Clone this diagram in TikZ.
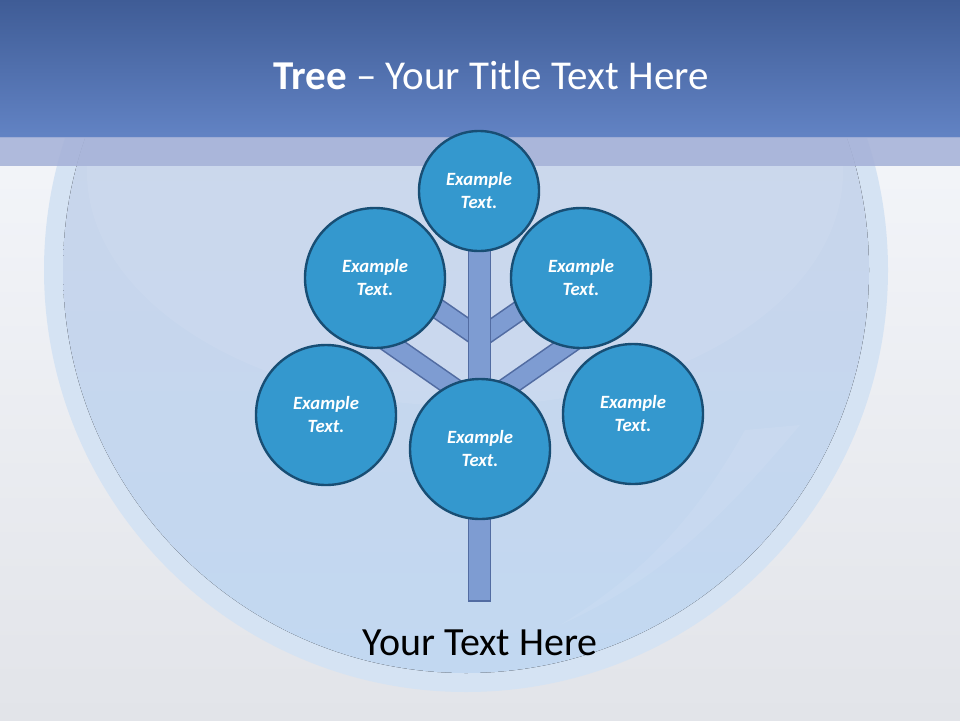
\documentclass[tikz,border=0pt]{standalone}
\usepackage{fontspec}
\setmainfont{Carlito}
\pgfdeclarelayer{back}
\pgfdeclarelayer{bg}
\pgfsetlayers{back,bg,main}
\definecolor{hdrtop}{RGB}{63,92,150}
\definecolor{hdrbot}{RGB}{98,131,196}
\definecolor{bandc}{RGB}{166,178,216}
\definecolor{leaf}{RGB}{52,152,206}
\definecolor{leafedge}{RGB}{24,78,116}
\definecolor{wood}{RGB}{126,156,210}
\definecolor{woodedge}{RGB}{82,108,162}
\definecolor{ringc}{RGB}{213,227,243}
\definecolor{spheretop}{RGB}{204,212,232}
\definecolor{spherebot}{RGB}{194,216,241}
\definecolor{bgtop}{RGB}{247,249,253}
\definecolor{bgbot}{RGB}{226,228,233}
\tikzset{
  leafc/.style={circle, draw=leafedge, line width=2.4pt, fill=leaf, text=white,
    align=center, font=\bfseries\itshape\fontsize{18.7}{23}\selectfont, inner sep=0pt},
  trunkbox/.style={rectangle, draw=woodedge, line width=1.6pt, fill=wood, inner sep=0pt},
  branchedge/.style={draw=woodedge, line width=21pt},
  branchfill/.style={draw=wood, line width=17.8pt},
}
\begin{document}
\begin{tikzpicture}[x=1pt,y=-1pt]
\useasboundingbox (0,0) rectangle (960,720);
\begin{pgfonlayer}{back}
  % page background
  \fill[top color=bgtop, bottom color=bgbot] (0,0) rectangle (960,720);
  % sphere
  \fill[ringc] (466,270) circle (422);
  \fill[top color=spheretop, bottom color=spherebot] (466,270) circle (403);
  \fill[white, opacity=0.07] (465,172) ellipse (378 and 234);
  % faint reflection lower right
  \fill[white, opacity=0.07] (800,425) .. controls (720,520) and (660,580) .. (560,625)
     .. controls (650,570) and (700,510) .. (745,430) -- cycle;
  % header
  \fill[top color=hdrtop, bottom color=hdrbot] (0,0) rectangle (960,137);
  \fill[bandc, opacity=0.88] (0,137) rectangle (960,166);
\end{pgfonlayer}

\node[font=\fontsize{41}{46}\selectfont, text=white] (title) at (491,75)
  {\textbf{Tree} -- Your Title Text Here};

% leaves
\node[leafc, minimum size=120pt] (top) at (479,191) {Example\\Text.};
\node[leafc, minimum size=140pt] (ul) at (375,278) {Example\\Text.};
\node[leafc, minimum size=140pt] (ur) at (581,278) {Example\\Text.};
\node[leafc, minimum size=140pt] (ll) at (326,415) {Example\\Text.};
\node[leafc, minimum size=140pt] (lr) at (633,414) {Example\\Text.};
\node[leafc, minimum size=140pt] (mid) at (480,449) {Example\\Text.};

\node[font=\fontsize{40}{45}\selectfont, text=black] (caption) at (480,643) {Your Text Here};

% trunk and branches
\coordinate (jlow) at (480,406);
\coordinate (jhigh) at (480,338);
\coordinate (bul1) at (385,340);
\coordinate (bul2) at (428,302);
\coordinate (bur1) at (575,340);
\coordinate (bur2) at (532,302);
\begin{pgfonlayer}{bg}
  \foreach \a/\b in {jlow/bul1, jhigh/bul2, jlow/bur1, jhigh/bur2}{
    \draw[branchedge] (\a) -- (\b);
  }
  \foreach \a/\b in {jlow/bul1, jhigh/bul2, jlow/bur1, jhigh/bur2}{
    \draw[branchfill] (\a) -- (\b);
  }
  \node[trunkbox, minimum width=22pt, minimum height=356pt] (trunk) at (479.5,423) {};
\end{pgfonlayer}
\end{tikzpicture}
\end{document}
